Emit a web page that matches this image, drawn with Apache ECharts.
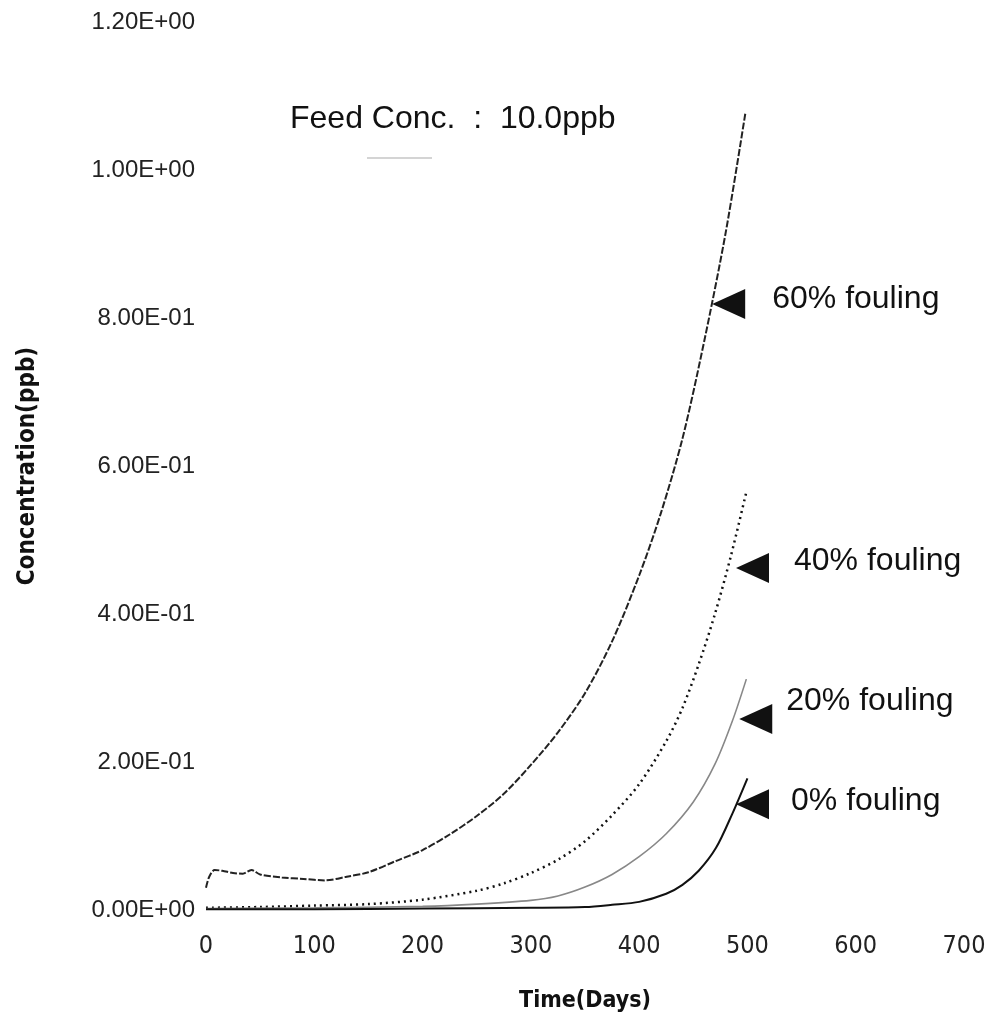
<!DOCTYPE html>
<html>
<head>
<meta charset="utf-8">
<script src="https://cdn.jsdelivr.net/npm/echarts@6/dist/echarts.min.js"></script>
<style>
  html, body { margin: 0; padding: 0; background: #fff; }
  #chart { width: 994px; height: 1023px; }
</style>
</head>
<body>
<div id="chart"></div>
<script>
// Effluent concentration vs. time for several membrane fouling levels
const fouling60 = [
  [0, 0.030], [3, 0.045], [8, 0.054], [15, 0.053], [25, 0.050], [34, 0.049], [42, 0.054],
  [50, 0.048], [70, 0.044], [90, 0.042], [110, 0.040], [130, 0.045], [150, 0.051],
  [175, 0.066], [200, 0.081], [225, 0.102], [250, 0.127], [275, 0.157], [300, 0.196],
  [325, 0.240], [350, 0.293], [375, 0.363], [400, 0.452], [420, 0.536], [440, 0.637],
  [460, 0.768], [480, 0.916], [498, 1.076]
];
const fouling40 = [
  [0, 0.003], [50, 0.004], [100, 0.006], [150, 0.008], [200, 0.014], [250, 0.026],
  [275, 0.036], [300, 0.050], [325, 0.068], [350, 0.093], [375, 0.128], [400, 0.170],
  [425, 0.228], [440, 0.273], [455, 0.332], [470, 0.400], [485, 0.480], [499, 0.565]
];
const fouling20 = [
  [0, 0.002], [100, 0.003], [200, 0.005], [250, 0.008], [300, 0.013], [325, 0.019],
  [350, 0.031], [375, 0.048], [400, 0.072], [425, 0.103], [450, 0.146], [470, 0.197],
  [486, 0.255], [499, 0.312]
];
const fouling0 = [
  [0, 0.001], [100, 0.001], [200, 0.002], [300, 0.003], [350, 0.004], [375, 0.007],
  [400, 0.011], [425, 0.022], [440, 0.034], [455, 0.053], [471, 0.084], [486, 0.130],
  [500, 0.178]
];

// Arrow markers pointing at each curve, with their captions
const markerDays = [467, 489, 492, 489];
const markerValues = [0.819, 0.462, 0.258, 0.143];
const markerLabels = ['60% fouling', '40% fouling', '20% fouling', '0% fouling'];
const markerLabelShift = [[0, -5], [-2, -7], [-13, -18], [-5, -3]];

const yTickValues = [0, 0.2, 0.4, 0.6, 0.8, 1.0, 1.2];
const yTickLabels = ['0.00E+00', '2.00E-01', '4.00E-01', '6.00E-01', '8.00E-01', '1.00E+00', '1.20E+00'];
const xTicks = [0, 100, 200, 300, 400, 500, 600, 700];

const titleText = 'Feed Conc.  :  10.0ppb';
const xName = 'Time(Days)';
const yName = 'Concentration(ppb)';

const chart = echarts.init(document.getElementById('chart'), null, { renderer: 'canvas' });

const markerData = markerDays.map((d, i) => ({
  value: [d, markerValues[i]],
  name: markerLabels[i],
  label: { offset: markerLabelShift[i] }
}));

const narrow = '"Liberation Sans Narrow", "DejaVu Sans Condensed", sans-serif';
const regular = '"Liberation Sans", Arial, sans-serif';

chart.setOption({
  backgroundColor: '#ffffff',
  animation: false,
  grid: { left: 206, right: 30, top: 22, bottom: 113, containLabel: false },
  graphic: [
    {
      type: 'text', left: 290, top: 103,
      style: { text: titleText, font: '32px ' + regular, fill: '#111' }
    },
    {
      type: 'line', shape: { x1: 367, y1: 158, x2: 432, y2: 158 },
      style: { stroke: '#d4d4d4', lineWidth: 2 }
    }
  ],
  xAxis: {
    type: 'value', min: 0, max: 700, interval: 100,
    name: xName, nameLocation: 'middle', nameGap: 80,
    nameTextStyle: { fontFamily: narrow, fontWeight: 'bold', fontSize: 23, color: '#111' },
    axisLine: { show: false }, axisTick: { show: false }, splitLine: { show: false },
    axisLabel: {
      margin: 24, fontSize: 25, color: '#222',
      fontFamily: narrow,
      customValues: xTicks
    }
  },
  yAxis: {
    type: 'value', min: 0, max: 1.2, interval: 0.2,
    name: yName, nameLocation: 'middle', nameGap: 166, nameRotate: 90,
    nameTextStyle: { fontFamily: narrow, fontWeight: 'bold', fontSize: 24, color: '#111' },
    axisLine: { show: false }, axisTick: { show: false }, splitLine: { show: false },
    axisLabel: {
      margin: 11, fontSize: 24, color: '#222',
      fontFamily: regular,
      formatter: v => {
        const i = yTickValues.findIndex(t => Math.abs(t - v) < 1e-9);
        return i >= 0 ? yTickLabels[i] : '';
      }
    }
  },
  series: [
    {
      name: '60% fouling', type: 'line', data: fouling60, smooth: 0.3, showSymbol: false,
      lineStyle: { color: '#222', width: 2, type: [7, 2] }
    },
    {
      name: '40% fouling', type: 'line', data: fouling40, smooth: 0.3, showSymbol: false,
      lineStyle: { color: '#111', width: 2.5, type: [2, 4] }
    },
    {
      name: '20% fouling', type: 'line', data: fouling20, smooth: 0.3, showSymbol: false,
      lineStyle: { color: '#888', width: 1.6 }
    },
    {
      name: '0% fouling', type: 'line', data: fouling0, smooth: 0.3, showSymbol: false,
      lineStyle: { color: '#111', width: 2 }
    },
    {
      name: 'markers', type: 'scatter', data: markerData,
      symbol: 'triangle', symbolRotate: 90, symbolSize: [30, 33], symbolOffset: [17, 0],
      itemStyle: { color: '#111', opacity: 1 },
      label: {
        show: true, position: 'right', distance: 27,
        formatter: p => p.name,
        fontFamily: regular, fontSize: 32, color: '#111'
      },
      z: 5
    }
  ]
});
</script>
</body>
</html>
